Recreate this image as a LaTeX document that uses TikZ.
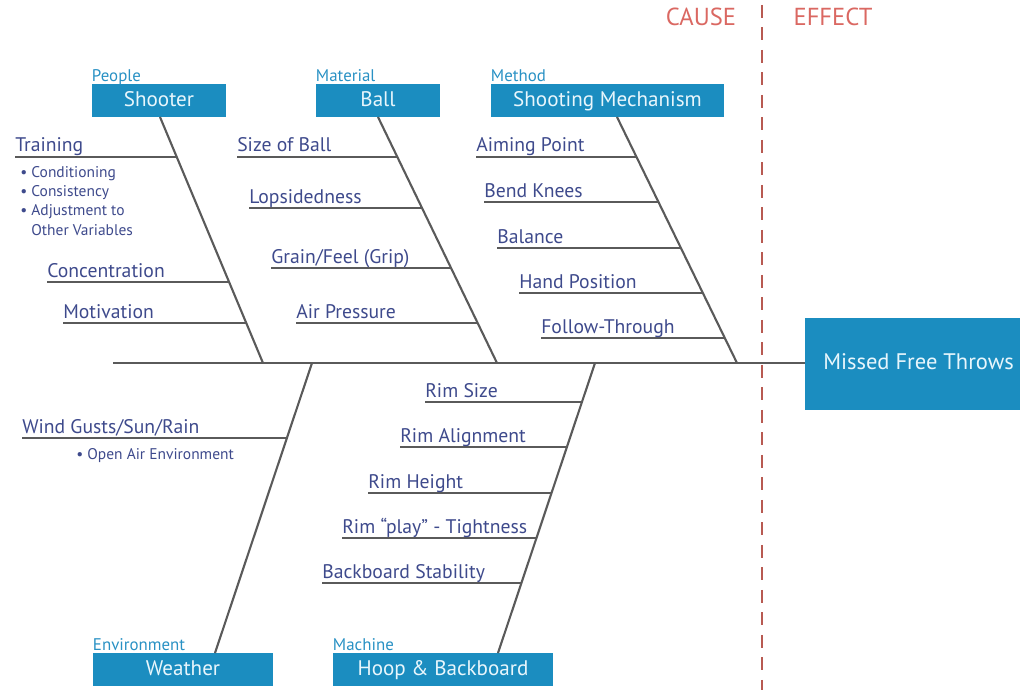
\documentclass[tikz,border=0pt]{standalone}
\usepackage{fontspec}
\setmainfont{PT Sans}
\usepackage{xcolor}
\usetikzlibrary{calc}

\definecolor{boxblue}{RGB}{27,141,192}
\definecolor{boxtext}{RGB}{232,246,252}
\definecolor{catblue}{RGB}{41,145,196}
\definecolor{ribtext}{RGB}{62,74,140}
\definecolor{boneline}{RGB}{90,90,90}
\definecolor{splitline}{RGB}{184,90,82}
\definecolor{splittext}{RGB}{218,104,98}

\tikzset{
  catbox/.style={fill=boxblue, text=boxtext, inner sep=0pt, minimum height=0.825cm, text height=1em, text depth=0.2em, font=\fontsize{15}{17}\selectfont},
  catlabel/.style={anchor=base west, inner sep=0pt, text=catblue, font=\fontsize{12}{14}\selectfont},
  cause/.style={anchor=base west, inner sep=0pt, text=ribtext, font=\fontsize{14}{16}\selectfont},
  subcause/.style={anchor=north west, inner sep=0pt, align=left, text=ribtext, font=\fontsize{11}{13.7}\selectfont},
  bone/.style={draw=boneline, line width=1.5pt},
  rib/.style={draw=boneline, line width=1.4pt},
}

\begin{document}
\begin{tikzpicture}[x=0.025cm, y=-0.025cm]
  \useasboundingbox (0,0) rectangle (1020,690);

  % cause / effect split
  \draw[splitline, line width=2pt, dash pattern=on 9pt off 7pt] (762,5) -- (762,690);
  \node[text=splittext, font=\fontsize{17.5}{19}\selectfont] (causehead) at (701,17) {CAUSE};
  \node[text=splittext, font=\fontsize{17.5}{19}\selectfont] (effecthead) at (833,17) {EFFECT};

  % effect box and spine
  \node[catbox, minimum width=5.375cm, minimum height=2.3cm, font=\fontsize{16}{19}\selectfont] (effect) at (912.5,364) {\hspace{0.3cm}Missed Free Throws};
  \coordinate (spinestart) at (113,363);
  \draw[bone] (spinestart) -- (spinestart -| effect.west);

  % category boxes
  \node[catbox, minimum width=3.35cm] (shooter) at (159,100.5) {Shooter};
  \node[catbox, minimum width=3.1cm] (ball) at (378,100.5) {Ball};
  \node[catbox, minimum width=5.825cm] (mech) at (607.5,100.5) {Shooting Mechanism};
  \node[catbox, minimum width=4.5cm] (weather) at (183,669.5) {Weather};
  \node[catbox, minimum width=5.5cm] (hoop) at (443,669.5) {Hoop \& Backboard};

  \node[catlabel] (people) at ([yshift=0.05cm]shooter.north west) {People};
  \node[catlabel] (material) at ([yshift=0.05cm]ball.north west) {Material};
  \node[catlabel] (method) at ([yshift=0.05cm]mech.north west) {Method};
  \node[catlabel] (environment) at ([yshift=0.05cm]weather.north west) {Environment};
  \node[catlabel] (machine) at ([yshift=0.05cm]hoop.north west) {Machine};

  % main bones
  \coordinate (sha) at (160,117);  \coordinate (shb) at (263,363);
  \coordinate (bla) at (378,117);  \coordinate (blb) at (497,363);
  \coordinate (mea) at (617,117);  \coordinate (meb) at (737,363);
  \coordinate (wea) at (215,653);  \coordinate (web) at (312,363);
  \coordinate (hpa) at (498,653);  \coordinate (hpb) at (595,363);
  \draw[bone] (sha) -- (shb);
  \draw[bone] (bla) -- (blb);
  \draw[bone] (mea) -- (meb);
  \draw[bone] (wea) -- (web);
  \draw[bone] (hpa) -- (hpb);

  % ribs on the upper bones
  \foreach \n/\x/\y/\t in {train/15/157/Training, conc/47/282/Concentration, motiv/63/323/Motivation} {
    \coordinate (\n a) at (\x,\y);
    \coordinate (\n b) at ($(sha)!{(\y-117)/246}!(shb)$);
    \draw[rib] (\n a) -- (\n b);
    \node[cause] (\n) at (\x,{\y-5}) {\t};
  }
  \foreach \n/\x/\y/\t in {size/237/157/Size of Ball, lops/249/208/Lopsidedness, grip/271/268/{Grain/Feel (Grip)}, air/296/323/Air Pressure} {
    \coordinate (\n a) at (\x,\y);
    \coordinate (\n b) at ($(bla)!{(\y-117)/246}!(blb)$);
    \draw[rib] (\n a) -- (\n b);
    \node[cause] (\n) at (\x,{\y-5}) {\t};
  }
  \foreach \n/\x/\y/\t in {aim/476/157/Aiming Point, knees/484/202/Bend Knees, bal/497/248/Balance, hand/519/293/Hand Position, follow/541/338/Follow-Through} {
    \coordinate (\n a) at (\x,\y);
    \coordinate (\n b) at ($(mea)!{(\y-117)/246}!(meb)$);
    \draw[rib] (\n a) -- (\n b);
    \node[cause] (\n) at (\x,{\y-5}) {\t};
  }

  % ribs on the lower bones
  \foreach \n/\x/\y/\t in {wind/22/438/{Wind Gusts/Sun/Rain}} {
    \coordinate (\n a) at (\x,\y);
    \coordinate (\n b) at ($(web)!{(\y-363)/290}!(wea)$);
    \draw[rib] (\n a) -- (\n b);
    \node[cause] (\n) at (\x,{\y-5}) {\t};
  }
  \foreach \n/\x/\y/\t in {rsize/425/402/Rim Size, ralign/400/447/Rim Alignment, rheight/368/493/Rim Height, rplay/342/538/Rim “play” - Tightness, board/322/583/Backboard Stability} {
    \coordinate (\n a) at (\x,\y);
    \coordinate (\n b) at ($(hpb)!{(\y-363)/290}!(hpa)$);
    \draw[rib] (\n a) -- (\n b);
    \node[cause] (\n) at (\x,{\y-5}) {\t};
  }

  % sub-causes
  \node[subcause] (trainlist) at (20,166) {• Conditioning\\• Consistency\\• Adjustment to\\\hphantom{• }Other Variables};
  \node[subcause] (windlist) at (76,448) {• Open Air Environment};
\end{tikzpicture}
\end{document}
